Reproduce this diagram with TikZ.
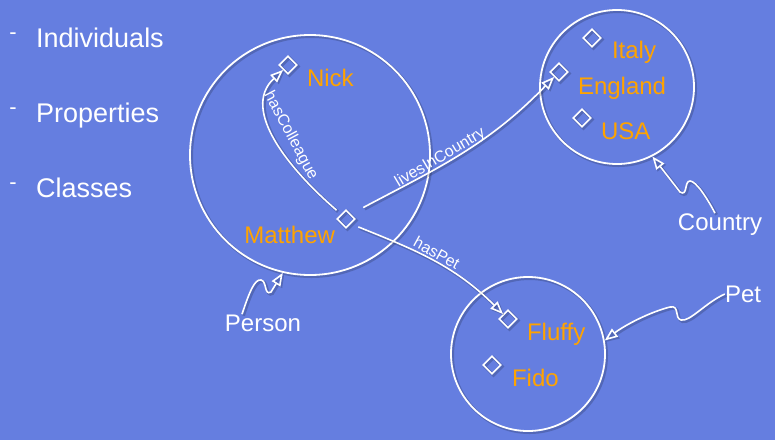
\documentclass[tikz,border=0pt]{standalone}
\usepackage{fontspec}
\setmainfont{Liberation Sans}
\usetikzlibrary{arrows.meta,positioning,shapes.geometric,calc}

\definecolor{slideblue}{RGB}{101,126,224}
\definecolor{indivorange}{RGB}{255,163,0}

\begin{document}
\begin{tikzpicture}[
  x=1pt, y=-1pt,
  every node/.style={inner sep=0pt},
  shadowed/.style={preaction={draw=black, draw opacity=.18, line width=3pt,
    transform canvas={shift={(1.5pt,-1.5pt)}}}},
  cls/.style={circle, draw=white, line width=1.8pt, minimum size=#1, shadowed},
  indiv/.style={diamond, draw=white, line width=1.6pt, minimum size=18pt, shadowed},
  inst/.style={text=indivorange, font=\fontsize{24}{28}\selectfont,
    text height=17.2pt, text depth=0pt},
  clsname/.style={text=white, font=\fontsize{24}{28}\selectfont,
    text height=17.2pt, text depth=0pt},
  item/.style={text=white, font=\fontsize{27}{31}\selectfont, anchor=west,
    text height=19.3pt, text depth=0pt},
  bulletmark/.style={text=white, font=\fontsize{22}{24}\selectfont},
  prop/.style={draw=white, line width=1.6pt, shadowed,
    -{Triangle[open, length=13pt, width=10pt]}},
  proplbl/.style={text=white, font=\fontsize{16}{19}\selectfont,
    text height=11.5pt, text depth=0pt},
  isa/.style={draw=white, line width=1.6pt, shadowed,
    -{Triangle[open, length=13pt, width=10pt]}},
]

% background
\fill[slideblue] (0,0) rectangle (775,440);

% bullet list
\node[bulletmark] (d1) at (13,36) {-};
\node[bulletmark] (d2) at (13,111) {-};
\node[bulletmark] (d3) at (13,186) {-};
\node[item] (individuals) at (36,38) {Individuals};
\node[item] (properties) at (36,113) {Properties};
\node[item] (classes) at (36,188) {Classes};

% class extensions
\node[cls=240pt] (personc) at (310,155) {};
\node[cls=154pt] (countryc) at (617,87) {};
\node[cls=154pt] (petc) at (528,354) {};

% individuals
\node[indiv] (nickd) at (288,65) {};
\node[indiv] (mattd) at (346,219) {};
\node[indiv] (italyd) at (592,38) {};
\node[indiv] (engd) at (559,72) {};
\node[indiv] (usad) at (582,118) {};
\node[indiv] (fluffyd) at (508,319) {};
\node[indiv] (fidod) at (492,365) {};

\node[inst, right=9pt of nickd, yshift=-13pt] (nick) {Nick};
\node[inst, left=1pt of mattd, yshift=-16pt] (matt) {Matthew};
\node[inst, right=10pt of italyd, yshift=-12pt] (italy) {Italy};
\node[inst, right=9pt of engd, yshift=-14pt] (england) {England};
\node[inst, right=9pt of usad, yshift=-13pt] (usa) {USA};
\node[inst, right=9pt of fluffyd, yshift=-13pt] (fluffy) {Fluffy};
\node[inst, right=10pt of fidod, yshift=-13pt] (fido) {Fido};

% class names
\node[clsname] (person) at (263,323) {Person};
\node[clsname] (country) at (720,222) {Country};
\node[clsname] (pet) at (743,294) {Pet};

% properties
\draw[prop, shorten <=6pt] (mattd.north west) .. controls (290,170) and (240,110) ..
  node[proplbl, pos=.55, xshift=19pt, yshift=-2pt, rotate=-62] {hasColleague} (nickd.south west);
\draw[prop, shorten <=14pt] (mattd.north east) to[out=28, in=226]
  node[proplbl, sloped, above=2pt, pos=.42] {livesInCountry} (engd.south west);
\draw[prop, shorten <=8pt] (mattd.south east) to[out=-22, in=135]
  node[proplbl, sloped, above=2pt, pos=.5] {hasPet} (fluffyd.north west);

% class membership
\draw[isa] ([xshift=-21pt]person.north) .. controls (250,290) and (255,279) .. (261,280)
  .. controls (267,281) and (264,296) .. (271,292) -- (personc.-103);
\draw[isa] ([xshift=-5pt]country.north) .. controls (707,198) and (696,181) .. (690,181)
  .. controls (684,181) and (688,197) .. (680,192) -- (countryc.-63);
\draw[isa] (pet.west) .. controls (705,303) and (690,322) .. (681,320)
  .. controls (674,318) and (680,305) .. (670,307)
  .. controls (650,312) and (625,325) .. (petc.10);

\end{tikzpicture}
\end{document}
